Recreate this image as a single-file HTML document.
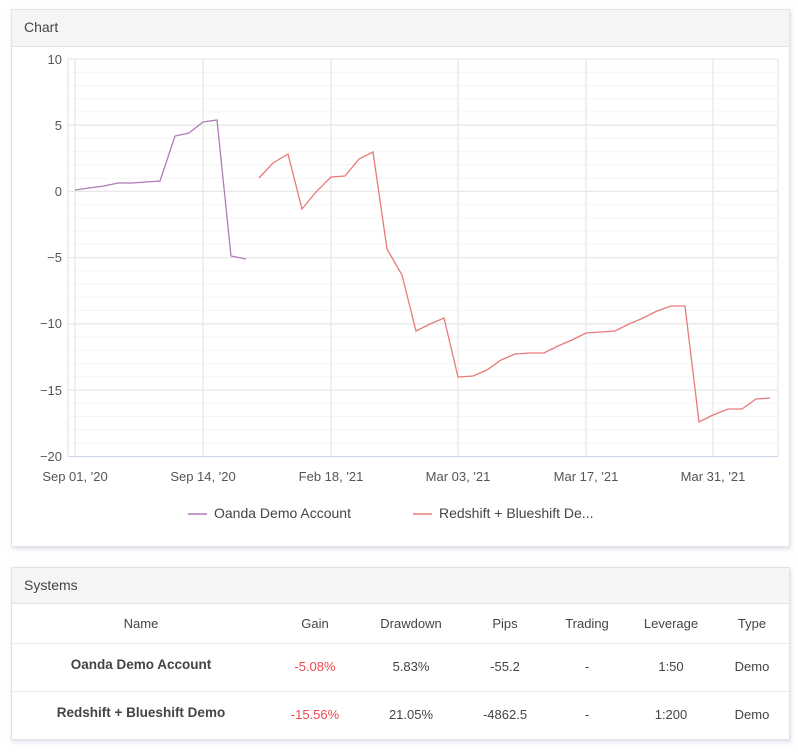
<!DOCTYPE html>
<html><head><meta charset="utf-8"><style>
html,body{margin:0;padding:0;background:#fff;}
body{width:798px;height:748px;overflow:hidden;font-family:"Liberation Sans",sans-serif;}
</style></head><body>
<svg width="798" height="748" xmlns="http://www.w3.org/2000/svg" font-family="Liberation Sans, sans-serif">
<defs><filter id="sh" x="-5%" y="-5%" width="110%" height="115%"><feDropShadow dx="1" dy="2" stdDeviation="2" flood-color="#c8c4dc" flood-opacity="0.6"/></filter></defs>
<!-- chart card -->
<rect x="11.5" y="9.5" width="778" height="537" fill="#fff" stroke="#e4e4e4" filter="url(#sh)"/>
<rect x="12" y="10" width="777" height="36" fill="#f5f5f5"/>
<line x1="12" y1="46.5" x2="789" y2="46.5" stroke="#e4e4e4"/>
<text x="24" y="32" font-size="14" fill="#444">Chart</text>
<!-- minor grid -->
<g stroke="#f5f5f5" stroke-width="1">
<path d="M68 72.2H778M68 85.5H778M68 98.7H778M68 111.9H778M68 138.4H778M68 151.7H778M68 164.9H778M68 178.1H778M68 204.6H778M68 217.9H778M68 231.1H778M68 244.3H778M68 270.8H778M68 284.1H778M68 297.3H778M68 310.5H778M68 337H778M68 350.3H778M68 363.5H778M68 376.7H778M68 403.2H778M68 416.5H778M68 429.7H778M68 442.9H778"/>
</g>
<g stroke="#e8e8e8" stroke-width="1.3">
<path d="M68 59H778M68 125.2H778M68 191.4H778M68 257.6H778M68 323.8H778M68 390H778"/>
<path d="M75 59V456M203 59V456M331 59V456M458 59V456M586 59V456M713 59V456M778 59V456M68 59V456"/>
</g>
<line x1="68" y1="456.5" x2="778" y2="456.5" stroke="#ccd6eb"/>
<g font-size="13" fill="#555" text-anchor="end">
<text x="62" y="64">10</text><text x="62" y="130">5</text><text x="62" y="196">0</text>
<text x="62" y="262">−5</text><text x="62" y="328">−10</text><text x="62" y="395">−15</text><text x="62" y="461">−20</text>
</g>
<g font-size="13" fill="#555" text-anchor="middle">
<text x="75" y="481">Sep 01, '20</text><text x="203" y="481">Sep 14, '20</text><text x="331" y="481">Feb 18, '21</text>
<text x="458" y="481">Mar 03, '21</text><text x="586" y="481">Mar 17, '21</text><text x="713" y="481">Mar 31, '21</text>
</g>
<polyline fill="none" stroke="#b07cb8" stroke-width="1.3" points="75,190 89,188 104,186 118,183 132,183 146,182 160,181 175,136 189,133 203,122 217,120 231,256 246,259"/>
<polyline fill="none" stroke="#e87a7a" stroke-width="1.3" points="259,178 273,163 288,154 302,209 316,192 331,177 345,176 359,159 373,152 387,249 402,275 416,331 430,324 444,318 458,377 473,376 487,370 501,360 515,354 530,353 544,353 558,346 572,340 586,333 601,332 615,331 629,324 643,318 657,311 671,306 685,306 699,422 713,415 728,409 742,409 756,399 770,398"/>
<line x1="188" y1="514" x2="207" y2="514" stroke="#b07cb8" stroke-width="1.5"/>
<text x="214" y="518" font-size="14" fill="#444">Oanda Demo Account</text>
<line x1="413" y1="514" x2="432" y2="514" stroke="#e87a7a" stroke-width="1.5"/>
<text x="439" y="518" font-size="14" fill="#444">Redshift + Blueshift De...</text>
<!-- systems card -->
<rect x="11.5" y="567.5" width="778" height="172" fill="#fff" stroke="#e4e4e4" filter="url(#sh)"/>
<rect x="12" y="568" width="777" height="35" fill="#f5f5f5"/>
<line x1="12" y1="603.5" x2="789" y2="603.5" stroke="#e4e4e4"/>
<line x1="12" y1="643.5" x2="789" y2="643.5" stroke="#ececec"/>
<line x1="12" y1="691.5" x2="789" y2="691.5" stroke="#ececec"/>
<text x="24" y="590" font-size="14" fill="#444">Systems</text>
<g font-size="13" fill="#444" text-anchor="middle">
<text x="141" y="628">Name</text><text x="315" y="628">Gain</text><text x="411" y="628">Drawdown</text>
<text x="505" y="628">Pips</text><text x="587" y="628">Trading</text><text x="671" y="628">Leverage</text><text x="752" y="628">Type</text>
<text x="141" y="669" font-weight="bold" font-size="13.5">Oanda Demo Account</text>
<text x="315" y="671" fill="#f0484e">-5.08%</text><text x="411" y="671">5.83%</text><text x="505" y="671">-55.2</text>
<text x="587" y="671">-</text><text x="671" y="671">1:50</text><text x="752" y="671">Demo</text>
<text x="141" y="717" font-weight="bold" font-size="13.5">Redshift + Blueshift Demo</text>
<text x="315" y="719" fill="#f0484e">-15.56%</text><text x="411" y="719">21.05%</text><text x="505" y="719">-4862.5</text>
<text x="587" y="719">-</text><text x="671" y="719">1:200</text><text x="752" y="719">Demo</text>
</g>
</svg>
</body></html>
